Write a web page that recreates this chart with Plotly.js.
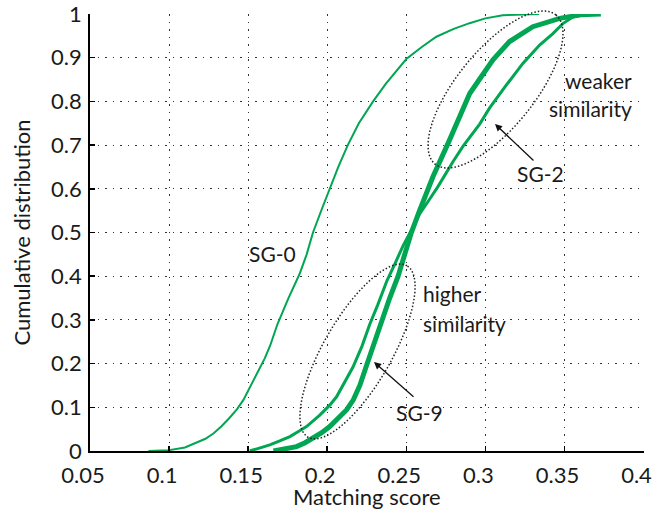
<!DOCTYPE html>
<html>
<head>
<meta charset="utf-8">
<script src="https://cdn.plot.ly/plotly-3.0.1.min.js"></script>
<style>html,body{margin:0;padding:0;background:#fff;}#chart{width:653px;height:513px;}</style>
</head>
<body>
<div id="chart"></div>
<script>
// ---- data ----
const sg0X = [0.087, 0.100, 0.110, 0.117, 0.123, 0.128, 0.133, 0.138, 0.143, 0.147, 0.151, 0.157, 0.1605, 0.164, 0.1685, 0.1755, 0.1825, 0.187, 0.191, 0.196, 0.2015, 0.207, 0.213, 0.220, 0.229, 0.237, 0.250, 0.260, 0.269, 0.280, 0.290, 0.300, 0.311, 0.322, 0.334];
const sg0Y = [0, 0.002, 0.008, 0.018, 0.028, 0.040, 0.056, 0.075, 0.096, 0.117, 0.146, 0.190, 0.212, 0.242, 0.290, 0.350, 0.405, 0.450, 0.500, 0.548, 0.600, 0.650, 0.700, 0.750, 0.800, 0.840, 0.897, 0.925, 0.948, 0.966, 0.979, 0.990, 0.997, 0.999, 1.0];

const sg2X = [0.151, 0.157, 0.1637, 0.170, 0.1764, 0.1815, 0.1869, 0.1953, 0.2016, 0.2059, 0.210, 0.2163, 0.222, 0.2269, 0.232, 0.2378, 0.243, 0.248, 0.2532, 0.258, 0.2645, 0.270, 0.2795, 0.2858, 0.2964, 0.3027, 0.3132, 0.3237, 0.3343, 0.3427, 0.349, 0.3553, 0.363, 0.372];
const sg2Y = [0, 0.006, 0.014, 0.023, 0.033, 0.044, 0.056, 0.082, 0.105, 0.124, 0.150, 0.192, 0.240, 0.290, 0.335, 0.390, 0.430, 0.470, 0.505, 0.540, 0.575, 0.605, 0.662, 0.697, 0.748, 0.785, 0.837, 0.887, 0.929, 0.955, 0.978, 0.993, 0.999, 1.0];

const sg9X = [0.166, 0.1735, 0.1806, 0.186, 0.191, 0.1965, 0.2016, 0.207, 0.2122, 0.2165, 0.2206, 0.2248, 0.2295, 0.2343, 0.2395, 0.2448, 0.249, 0.2532, 0.2585, 0.2669, 0.2764, 0.2827, 0.2901, 0.2975, 0.3048, 0.3153, 0.330, 0.347, 0.360, 0.373];
const sg9Y = [0, 0.004, 0.010, 0.019, 0.029, 0.042, 0.056, 0.074, 0.094, 0.117, 0.150, 0.195, 0.245, 0.300, 0.350, 0.400, 0.450, 0.500, 0.551, 0.628, 0.704, 0.757, 0.818, 0.857, 0.895, 0.937, 0.971, 0.990, 0.998, 1.0];

const xTicks = [0.05, 0.1, 0.15, 0.2, 0.25, 0.3, 0.35, 0.4];
const yTicks = [0, 0.1, 0.2, 0.3, 0.4, 0.5, 0.6, 0.7, 0.8, 0.9, 1];

// ---- layout geometry ----
const W = 653, H = 513;
const M = {l: 90, r: 9, t: 14, b: 62};
const xRange = [0.05, 0.4003], yRange = [0, 1];
const pw = W - M.l - M.r, ph = H - M.t - M.b;
const px2x = p => xRange[0] + (p - M.l) / pw * (xRange[1] - xRange[0]);
const px2y = p => yRange[0] + (H - M.b - p) / ph * (yRange[1] - yRange[0]);
const px2px = p => (p - M.l) / pw;          // pixel -> paper x
const py2py = p => (H - M.b - p) / ph;      // pixel -> paper y

function ellipsePath(cx, cy, a, b, deg) {
  const th = deg * Math.PI / 180;
  let d = '';
  for (let i = 0; i <= 90; i++) {
    const t = i / 90 * 2 * Math.PI;
    const px = cx + a * Math.cos(t) * Math.cos(th) - b * Math.sin(t) * Math.sin(th);
    const py = cy - (a * Math.cos(t) * Math.sin(th) + b * Math.sin(t) * Math.cos(th));
    d += (i === 0 ? 'M' : 'L') + px2px(px).toFixed(5) + ',' + py2py(py).toFixed(5);
  }
  return d + 'Z';
}

const green = '#00a651';
const font = 'Lato, "Noto Sans", sans-serif';
const txtColor = '#1a1a1a';

const traces = [
  {x: sg0X, y: sg0Y, name: 'SG-0', mode: 'lines', line: {color: green, width: 2}},
  {x: sg2X, y: sg2Y, name: 'SG-2', mode: 'lines', line: {color: green, width: 3}},
  {x: sg9X, y: sg9Y, name: 'SG-9', mode: 'lines', line: {color: green, width: 5}}
];

function txt(text, px, py, anchor) {
  return {x: px2x(px), y: px2y(py), xref: 'x', yref: 'y', text: text, showarrow: false,
    xanchor: anchor || 'center', yanchor: 'middle', font: {family: font, size: 21, color: txtColor}};
}
function arrow(tipX, tipY, tailX, tailY) {
  return {x: px2x(tipX), y: px2y(tipY), ax: px2x(tailX), ay: px2y(tailY), axref: 'x', ayref: 'y',
    xref: 'x', yref: 'y', text: '', showarrow: true, arrowhead: 2, arrowsize: 1.1, arrowwidth: 1.3,
    arrowcolor: '#111', standoff: 0, startstandoff: 0};
}

const layout = {
  width: W, height: H,
  margin: M,
  paper_bgcolor: '#fff', plot_bgcolor: '#fff',
  showlegend: false,
  font: {family: font, size: 22, color: txtColor},
  xaxis: {
    range: xRange, tickvals: xTicks, ticktext: xTicks.map(String),
    showline: true, linecolor: '#000', linewidth: 1.8,
    showgrid: true, gridcolor: '#333', gridwidth: 1, griddash: '1.5px,6px',
    zeroline: false, ticks: 'inside', ticklen: 5, tickcolor: '#000', tickwidth: 1.5,
    ticklabeloverflow: 'allow', ticklabelstandoff: 4, ticklabelshift: -7,
    tickfont: {family: font, size: 22, color: txtColor}
  },
  yaxis: {
    range: yRange, tickvals: yTicks, ticktext: yTicks.map(String),
    showline: true, linecolor: '#000', linewidth: 1.8,
    showgrid: true, gridcolor: '#333', gridwidth: 1, griddash: '1.5px,6px',
    zeroline: false, ticks: 'inside', ticklen: 5, tickcolor: '#000', tickwidth: 1.5,
    ticklabeloverflow: 'allow', ticklabelstandoff: 2,
    tickfont: {family: font, size: 22, color: txtColor},
    title: {text: 'Cumulative distribution', font: {family: font, size: 22, color: txtColor}, standoff: 14}
  },
  shapes: [
    {type: 'path', xref: 'paper', yref: 'paper', path: ellipsePath(495.5, 89.5, 96, 38.7, 51), line: {color: '#222', width: 1.5, dash: '1.5px,2px'}},
    {type: 'path', xref: 'paper', yref: 'paper', path: ellipsePath(357.5, 351.5, 99, 34, 60), line: {color: '#222', width: 1.5, dash: '1.5px,2px'}}
  ],
  annotations: [
    {text: 'Matching score', xref: 'paper', yref: 'paper', x: 0.5, y: py2py(496), xanchor: 'center', yanchor: 'middle',
     showarrow: false, font: {family: font, size: 22, color: txtColor}},
    txt('SG-0', 272, 253),
    txt('weaker', 634, 80, 'right'),
    txt('similarity', 634, 108, 'right'),
    txt('higher', 421, 293, 'left'),
    txt('similarity', 421, 323, 'left'),
    txt('SG-2', 540, 173),
    txt('SG-9', 419, 412),
    arrow(495, 124, 535, 162),
    arrow(374, 362, 415, 398)
  ]
};

Plotly.newPlot('chart', traces, layout, {displayModeBar: false, staticPlot: true});
</script>
</body>
</html>
